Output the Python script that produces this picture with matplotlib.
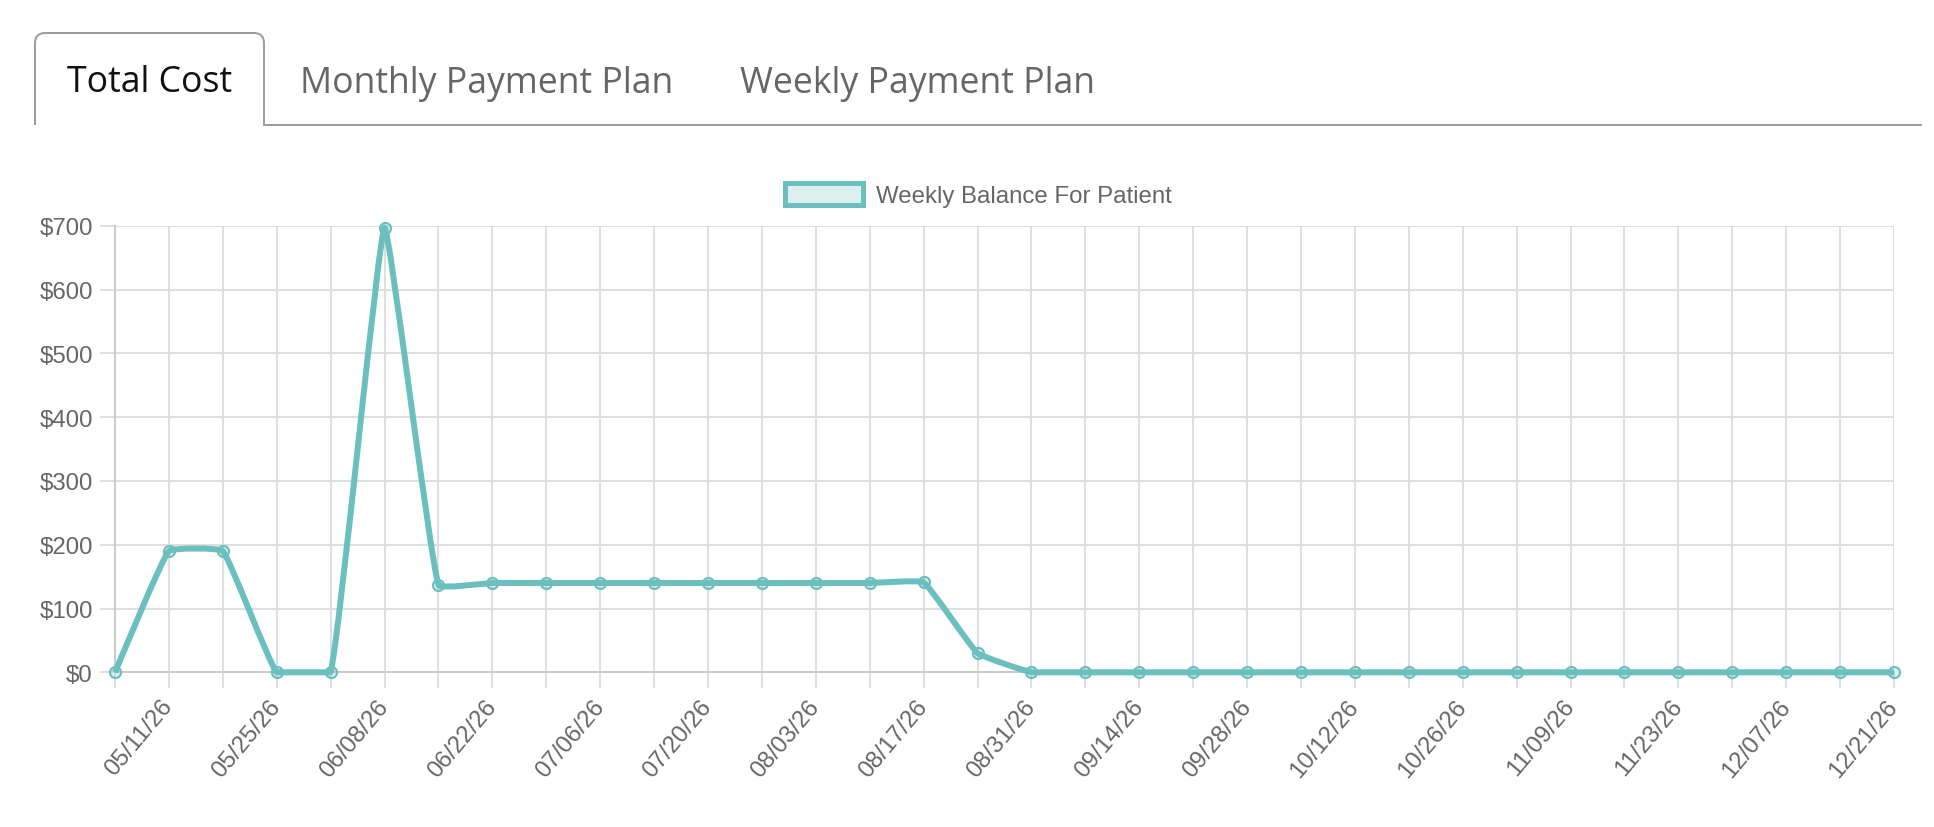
import numpy as np
import matplotlib
matplotlib.use("Agg")
import matplotlib.pyplot as plt
from matplotlib.path import Path
from matplotlib.patches import PathPatch, Rectangle
from matplotlib.transforms import Affine2D
import matplotlib.ticker as mticker

# ---------------- data ----------------
dates = ['05/04/26', '05/11/26', '05/18/26', '05/25/26', '06/01/26', '06/08/26',
         '06/15/26', '06/22/26', '06/29/26', '07/06/26', '07/13/26', '07/20/26',
         '07/27/26', '08/03/26', '08/10/26', '08/17/26', '08/24/26', '08/31/26',
         '09/07/26', '09/14/26', '09/21/26', '09/28/26', '10/05/26', '10/12/26',
         '10/19/26', '10/26/26', '11/02/26', '11/09/26', '11/16/26', '11/23/26',
         '11/30/26', '12/07/26', '12/14/26', '12/21/26']
balance = [0, 190, 190, 0, 0, 697, 137, 140, 140, 140, 140, 140, 140, 140, 140, 141, 30,
           0, 0, 0, 0, 0, 0, 0, 0, 0, 0, 0, 0, 0, 0, 0, 0, 0]
y_ticks = [0, 100, 200, 300, 400, 500, 600, 700]
series_label = "Weekly Balance For Patient"
tabs = ["Total Cost", "Monthly Payment Plan", "Weekly Payment Plan"]

# ---------------- style ----------------
W, H = 1934, 828
DPI = 100
PX = 72.0 / DPI  # points per pixel
TEAL = "#6bbfbf"
TEAL_FILL = (0.42, 0.75, 0.75, 0.2)
GRID = "#dfdfdf"
ZERO = "#cacaca"
TXT = "#666666"
TICK_FONT = ["Liberation Sans", "DejaVu Sans"]
TAB_FONT = ["Open Sans", "DejaVu Sans"]

fig = plt.figure(figsize=(W / DPI, H / DPI), dpi=DPI)
fig.patch.set_facecolor("white")
T = Affine2D().scale(1.0 / W, -1.0 / H).translate(0, 1) + fig.transFigure

# ---------------- tabs ----------------
r = 10
tab_path = Path(
    [(35, 126), (35, 34 + r), (35, 34), (35 + r, 34), (264 - r, 34), (264, 34), (264, 34 + r),
     (264, 126), (1922, 126)],
    [Path.MOVETO, Path.LINETO, Path.CURVE3, Path.CURVE3, Path.LINETO, Path.CURVE3, Path.CURVE3,
     Path.LINETO, Path.LINETO])
fig.add_artist(PathPatch(tab_path, facecolor="none", edgecolor="#9e9e9e", lw=2 * PX,
                         transform=T, capstyle="butt", joinstyle="miter"))
tab_x = [67, 300, 740]
tab_col = ["#111111", TXT, TXT]
for label, tx, c in zip(tabs, tab_x, tab_col):
    fig.text(tx, 92.5, label, transform=T, fontsize=25.7, color=c, family=TAB_FONT,
             ha="left", va="baseline")

# ---------------- legend ----------------
fig.add_artist(Rectangle((784.5, 183.5), 78, 22, transform=T, facecolor="#ddf0f0",
                         edgecolor=TEAL, lw=5 * PX))
fig.text(876, 195, series_label, transform=T, fontsize=17.3, color=TXT, family=TICK_FONT,
         ha="left", va="center_baseline")

# ---------------- axes ----------------
x0, x1, y0, y1 = 115, 1894, 226.7, 673.3
ax = fig.add_axes([x0 / W, 1 - y1 / H, (x1 - x0) / W, (y1 - y0) / H])
ax.set_facecolor("none")
xs = np.arange(len(dates))
ax.set_xlim(0, len(dates) - 1)
ax.set_ylim(0, 700)
for s in ax.spines.values():
    s.set_visible(False)

ax.set_xticks(xs)
ax.set_xticklabels([d if i % 2 == 1 else "" for i, d in enumerate(dates)])
ax.set_yticks(y_ticks)
ax.yaxis.set_major_formatter(mticker.FuncFormatter(lambda v, p: "${:,.0f}".format(v)))
ax.grid(True, color=GRID, lw=2 * PX)
ax.set_axisbelow(True)
ax.tick_params(axis="y", length=15 * PX, width=2 * PX, color=GRID, pad=7 * PX,
               labelsize=17.3, labelcolor=TXT)
ax.tick_params(axis="x", length=16 * PX, width=2 * PX, color=GRID, pad=14 * PX,
               labelsize=17.3, labelcolor=TXT)
for lab in ax.get_yticklabels() + ax.get_xticklabels():
    lab.set_family(TICK_FONT)
for lab in ax.get_xticklabels():
    lab.set_rotation(50)
    lab.set_ha("right")
    lab.set_va("center")
    lab.set_rotation_mode("anchor")

ax.axhline(0, color=ZERO, lw=2 * PX, zorder=1.5, clip_on=False)
ax.axvline(0, color=ZERO, lw=2 * PX, zorder=1.5, clip_on=False)

# ---------------- spline line (Chart.js style bezier, tension 0.1) ----------------
tension = 0.1
pts = ax.transData.transform(np.column_stack([xs, balance]).astype(float))
bb = ax.bbox
n = len(pts)
prev_cp, next_cp = [], []
for i in range(n):
    cur = pts[i]
    pr = pts[i - 1] if i > 0 else cur
    nx = pts[i + 1] if i < n - 1 else cur
    d01 = np.hypot(*(cur - pr))
    d12 = np.hypot(*(nx - cur))
    tot = d01 + d12
    s01 = d01 / tot if tot > 0 else 0
    s12 = d12 / tot if tot > 0 else 0
    pc = cur - tension * s01 * (nx - pr)
    ncp = cur + tension * s12 * (nx - pr)
    for c in (pc, ncp):
        c[0] = min(max(c[0], bb.x0), bb.x1)
        c[1] = min(max(c[1], bb.y0), bb.y1)
    prev_cp.append(pc)
    next_cp.append(ncp)
verts = [pts[0]]
codes = [Path.MOVETO]
for i in range(n - 1):
    verts += [next_cp[i], prev_cp[i + 1], pts[i + 1]]
    codes += [Path.CURVE4] * 3
verts = ax.transData.inverted().transform(np.array(verts))
ax.add_patch(PathPatch(Path(verts, codes), facecolor="none", edgecolor=TEAL,
                       lw=6 * PX, zorder=3, clip_on=False, joinstyle="round"))
ax.plot(xs, balance, linestyle="none", marker="o", ms=11 * PX, mfc=TEAL_FILL,
        mec=TEAL, mew=2.2 * PX, zorder=4, clip_on=False)

fig.savefig("out.png", dpi=DPI, facecolor="white")
